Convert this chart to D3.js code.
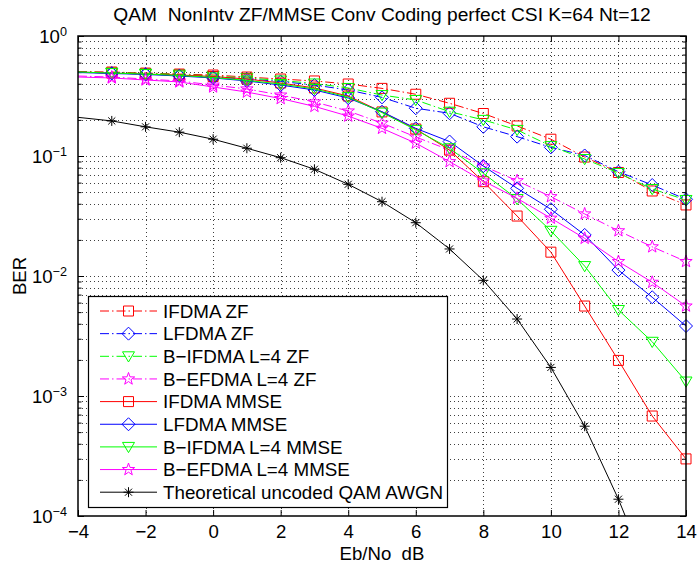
<!DOCTYPE html>
<html>
<head>
<meta charset="utf-8">
<script src="https://cdn.jsdelivr.net/npm/d3@7"></script>
<style>
  body { margin: 0; background: #fff; }
  svg { display: block; }
  text { font-family: "Liberation Sans", Arial, Helvetica, sans-serif; fill: #000; white-space: pre; }
</style>
</head>
<body>
<svg id="chart" width="697" height="568"></svg>
<script>
// Eb/No grid (dB) shared by the simulated curves
const ebno = [-4, -3, -2, -1, 0, 1, 2, 3, 4, 5, 6, 7, 8, 9, 10, 11, 12, 13, 14];

// Simulated BER, zero-forcing receivers
const ifdmaZF  = [0.506, 0.501, 0.491, 0.482, 0.473, 0.455, 0.438, 0.422, 0.398, 0.366, 0.327, 0.275, 0.226, 0.178, 0.138, 0.098, 0.0729, 0.0511, 0.0391];
const lfdmaZF  = [0.501, 0.491, 0.482, 0.469, 0.455, 0.438, 0.418, 0.390, 0.355, 0.308, 0.250, 0.227, 0.175, 0.145, 0.118, 0.101, 0.0740, 0.0573, 0.0436];
const bifdmaZF = [0.501, 0.496, 0.487, 0.478, 0.464, 0.447, 0.426, 0.402, 0.369, 0.322, 0.293, 0.234, 0.200, 0.165, 0.121, 0.0944, 0.0722, 0.0531, 0.0430];
const befdmaZF = [0.464, 0.455, 0.438, 0.422, 0.390, 0.362, 0.322, 0.282, 0.237, 0.188, 0.144, 0.112, 0.0825, 0.0622, 0.0458, 0.0329, 0.0238, 0.0175, 0.0132];

// Simulated BER, MMSE receivers
const ifdmaMMSE  = [0.501, 0.491, 0.482, 0.473, 0.460, 0.438, 0.406, 0.369, 0.316, 0.233, 0.168, 0.112, 0.0611, 0.0316, 0.0158, 0.00562, 0.00198, 0.000681, 0.000299];
const lfdmaMMSE  = [0.496, 0.487, 0.478, 0.464, 0.447, 0.422, 0.390, 0.355, 0.304, 0.234, 0.170, 0.132, 0.0825, 0.0538, 0.0360, 0.0220, 0.0112, 0.00665, 0.00383];
const bifdmaMMSE = [0.501, 0.491, 0.482, 0.469, 0.451, 0.426, 0.398, 0.362, 0.310, 0.230, 0.165, 0.116, 0.0718, 0.0438, 0.0238, 0.0121, 0.00521, 0.00283, 0.00132];
const befdmaMMSE = [0.455, 0.447, 0.430, 0.414, 0.376, 0.341, 0.301, 0.259, 0.215, 0.170, 0.128, 0.0897, 0.0619, 0.0444, 0.0303, 0.0206, 0.0132, 0.00886, 0.00562];

// Theoretical uncoded QAM over AWGN
const theoryEbNo = [-4, -3, -2, -1, 0, 1, 2, 3, 4, 5, 6, 7, 8, 9, 10, 11, 12, 13];
const theoryAWGN = [0.210, 0.196, 0.175, 0.158, 0.138, 0.116, 0.0968, 0.0775, 0.0581, 0.0416, 0.0278, 0.0168, 0.0092, 0.00438, 0.00173, 0.00056, 0.000138, 0.000028];

const seriesNames = [
  "IFDMA ZF", "LFDMA ZF", "B\u2212IFDMA L=4 ZF", "B\u2212EFDMA L=4 ZF",
  "IFDMA MMSE", "LFDMA MMSE", "B\u2212IFDMA L=4 MMSE", "B\u2212EFDMA L=4 MMSE",
  "Theoretical uncoded QAM AWGN"
];

const xTickValues = [-4, -2, 0, 2, 4, 6, 8, 10, 12, 14];
const yTickExponents = [0, -1, -2, -3, -4];

const titleText = "QAM  NonIntv ZF/MMSE Conv Coding perfect CSI K=64 Nt=12";
const xLabelText = "Eb/No  dB";
const yLabelText = "BER";

// ---- layout ----
const plot = { left: 78, right: 686, top: 36, bottom: 516 };
const FONT = 18.6;

const svg = d3.select("#chart");
const x = d3.scaleLinear().domain([-4, 14]).range([plot.left, plot.right]);
const y = d3.scaleLog().domain([1e-4, 1]).range([plot.bottom, plot.top]);

// ---- marker shapes (r = half-size in px) ----
const symSquare = { draw(c, r) { c.rect(-r, -r, 2 * r, 2 * r); } };
const symDiamond = { draw(c, r) { c.moveTo(0, -r); c.lineTo(r, 0); c.lineTo(0, r); c.lineTo(-r, 0); c.closePath(); } };
const symTriDown = { draw(c, r) { c.moveTo(-r, -0.75 * r); c.lineTo(r, -0.75 * r); c.lineTo(0, 0.95 * r); c.closePath(); } };
const symPentagram = { draw(c, r) {
  const ri = r * 0.40;
  for (let i = 0; i < 10; i++) {
    const a = -Math.PI / 2 + i * Math.PI / 5;
    const rr = i % 2 === 0 ? r : ri;
    const px = rr * Math.cos(a), py = rr * Math.sin(a);
    if (i === 0) c.moveTo(px, py); else c.lineTo(px, py);
  }
  c.closePath();
} };
const symAsterisk = { draw(c, r) {
  const d = r * Math.SQRT1_2;
  c.moveTo(-r, 0); c.lineTo(r, 0);
  c.moveTo(0, -r); c.lineTo(0, r);
  c.moveTo(-d, -d); c.lineTo(d, d);
  c.moveTo(-d, d); c.lineTo(d, -d);
} };

const DASHDOT = "9,3,1.5,3";
const series = [
  { name: seriesNames[0], xs: ebno, ys: ifdmaZF,    color: "#ff0000", dash: DASHDOT, sym: symSquare,    r: 5 },
  { name: seriesNames[1], xs: ebno, ys: lfdmaZF,    color: "#0000ff", dash: DASHDOT, sym: symDiamond,   r: 6.5 },
  { name: seriesNames[2], xs: ebno, ys: bifdmaZF,   color: "#00ff00", dash: DASHDOT, sym: symTriDown,   r: 6 },
  { name: seriesNames[3], xs: ebno, ys: befdmaZF,   color: "#ff00ff", dash: DASHDOT, sym: symPentagram, r: 6.5 },
  { name: seriesNames[4], xs: ebno, ys: ifdmaMMSE,  color: "#ff0000", dash: null,    sym: symSquare,    r: 5 },
  { name: seriesNames[5], xs: ebno, ys: lfdmaMMSE,  color: "#0000ff", dash: null,    sym: symDiamond,   r: 6.5 },
  { name: seriesNames[6], xs: ebno, ys: bifdmaMMSE, color: "#00ff00", dash: null,    sym: symTriDown,   r: 6 },
  { name: seriesNames[7], xs: ebno, ys: befdmaMMSE, color: "#ff00ff", dash: null,    sym: symPentagram, r: 6.5 },
  { name: seriesNames[8], xs: theoryEbNo, ys: theoryAWGN, color: "#000000", dash: null, sym: symAsterisk, r: 5, markerEnd: 17 }
];

// ---- grid ----
const grid = svg.append("g").attr("stroke", "#000").attr("stroke-width", 1)
  .attr("stroke-dasharray", "1,3").attr("shape-rendering", "crispEdges").attr("opacity", 0.75);

const minorY = [];
for (let k = -4; k < 0; k++) for (let m = 1; m <= 9; m++) minorY.push(m * Math.pow(10, k));
grid.selectAll("line.h").data(minorY.filter(v => v > 1e-4)).join("line")
  .attr("x1", plot.left).attr("x2", plot.right)
  .attr("y1", d => Math.round(y(d)) + 0.5).attr("y2", d => Math.round(y(d)) + 0.5);
grid.selectAll("line.v").data(xTickValues.slice(1, -1)).join("line")
  .attr("y1", plot.top).attr("y2", plot.bottom)
  .attr("x1", d => Math.round(x(d)) + 0.5).attr("x2", d => Math.round(x(d)) + 0.5);

// ---- axes ----
const fmtX = d => (d < 0 ? "\u2212" + (-d) : String(d));
const TICK = 6;

const gx = svg.append("g").attr("transform", `translate(0,${plot.bottom})`)
  .call(d3.axisBottom(x).tickValues(xTickValues).tickSizeInner(-TICK).tickSizeOuter(0).tickPadding(9).tickFormat(fmtX));
svg.append("g").attr("transform", `translate(0,${plot.top})`)
  .call(d3.axisTop(x).tickValues(xTickValues).tickSizeInner(-TICK).tickSizeOuter(0).tickFormat(""));

const yMajor = yTickExponents.map(e => Math.pow(10, e));
const gy = svg.append("g").attr("transform", `translate(${plot.left},0)`)
  .call(d3.axisLeft(y).tickValues(yMajor).tickSizeInner(-TICK).tickSizeOuter(0).tickPadding(10).tickFormat(""));
svg.append("g").attr("transform", `translate(${plot.right},0)`)
  .call(d3.axisRight(y).tickValues(yMajor).tickSizeInner(-TICK).tickSizeOuter(0).tickFormat(""));
svg.append("g").attr("transform", `translate(${plot.left},0)`)
  .call(d3.axisLeft(y).tickValues(minorY.filter(v => yMajor.indexOf(v) < 0)).tickSizeInner(-3.5).tickSizeOuter(0).tickFormat(""));
svg.append("g").attr("transform", `translate(${plot.right},0)`)
  .call(d3.axisRight(y).tickValues(minorY.filter(v => yMajor.indexOf(v) < 0)).tickSizeInner(-3.5).tickSizeOuter(0).tickFormat(""));

svg.selectAll(".domain").remove();
svg.selectAll(".tick line").attr("stroke", "#000");
gx.selectAll(".tick text").attr("font-size", FONT).attr("font-family", null);

// y labels as powers of ten
gy.selectAll(".tick").each(function (d) {
  const t = d3.select(this).select("text").attr("font-size", FONT).attr("font-family", null)
    .attr("x", -11).attr("dy", "0.36em").attr("text-anchor", "end");
  const e = Math.round(Math.log10(d));
  t.append("tspan").text("10");
  t.append("tspan").attr("dy", "-0.55em").attr("font-size", FONT * 0.68)
    .text(e < 0 ? "\u2212" + (-e) : String(e));
});

// ---- data ----
const clipId = "plotclip";
svg.append("clipPath").attr("id", clipId).append("rect")
  .attr("x", plot.left).attr("y", plot.top)
  .attr("width", plot.right - plot.left).attr("height", plot.bottom - plot.top);

const line = d3.line().x(d => x(d[0])).y(d => y(d[1]));
const seriesG = svg.append("g");
series.forEach(s => {
  const pts = s.xs.map((v, i) => [v, s.ys[i]]);
  seriesG.append("path").datum(pts)
    .attr("clip-path", `url(#${clipId})`)
    .attr("fill", "none").attr("stroke", s.color).attr("stroke-width", 1)
    .attr("stroke-dasharray", s.dash).attr("d", line);
  const mk = pts.slice(1, s.markerEnd || pts.length);
  seriesG.append("g").selectAll("path").data(mk).join("path")
    .attr("transform", d => `translate(${x(d[0])},${y(d[1])})`)
    .attr("d", d3.symbol().type(s.sym).size(s.r))
    .attr("fill", "none").attr("stroke", s.color).attr("stroke-width", 1);
});

// ---- frame ----
svg.append("rect").attr("x", plot.left).attr("y", plot.top)
  .attr("width", plot.right - plot.left).attr("height", plot.bottom - plot.top)
  .attr("fill", "none").attr("stroke", "#000").attr("stroke-width", 1.5);

// ---- legend ----
const lg = { x: 88, y: 296, w: 359, h: 211, row0: 311, step: 22.65 };
const legend = svg.append("g");
legend.append("rect").attr("x", lg.x + 0.5).attr("y", lg.y + 0.5).attr("width", lg.w).attr("height", lg.h)
  .attr("fill", "#fff").attr("stroke", "#000").attr("stroke-width", 1.2);
series.forEach((s, i) => {
  const cy = lg.row0 + i * lg.step;
  legend.append("line").attr("x1", 100).attr("x2", 157).attr("y1", cy).attr("y2", cy)
    .attr("stroke", s.color).attr("stroke-width", 1).attr("stroke-dasharray", s.dash);
  legend.append("path").attr("transform", `translate(128.5,${cy})`)
    .attr("d", d3.symbol().type(s.sym).size(s.r))
    .attr("fill", "none").attr("stroke", s.color).attr("stroke-width", 1);
  legend.append("text").attr("x", 163).attr("y", cy).attr("dy", "0.36em")
    .attr("font-size", 18.8).text(s.name);
});

// ---- titles ----
svg.append("text").attr("x", (plot.left + plot.right) / 2).attr("y", 21)
  .attr("text-anchor", "middle").attr("font-size", 19.2).text(titleText);
svg.append("text").attr("x", (plot.left + plot.right) / 2).attr("y", 560)
  .attr("text-anchor", "middle").attr("font-size", FONT).text(xLabelText);
svg.append("text").attr("transform", `translate(26,${(plot.top + plot.bottom) / 2}) rotate(-90)`)
  .attr("text-anchor", "middle").attr("font-size", FONT).text(yLabelText);
</script>
</body>
</html>
